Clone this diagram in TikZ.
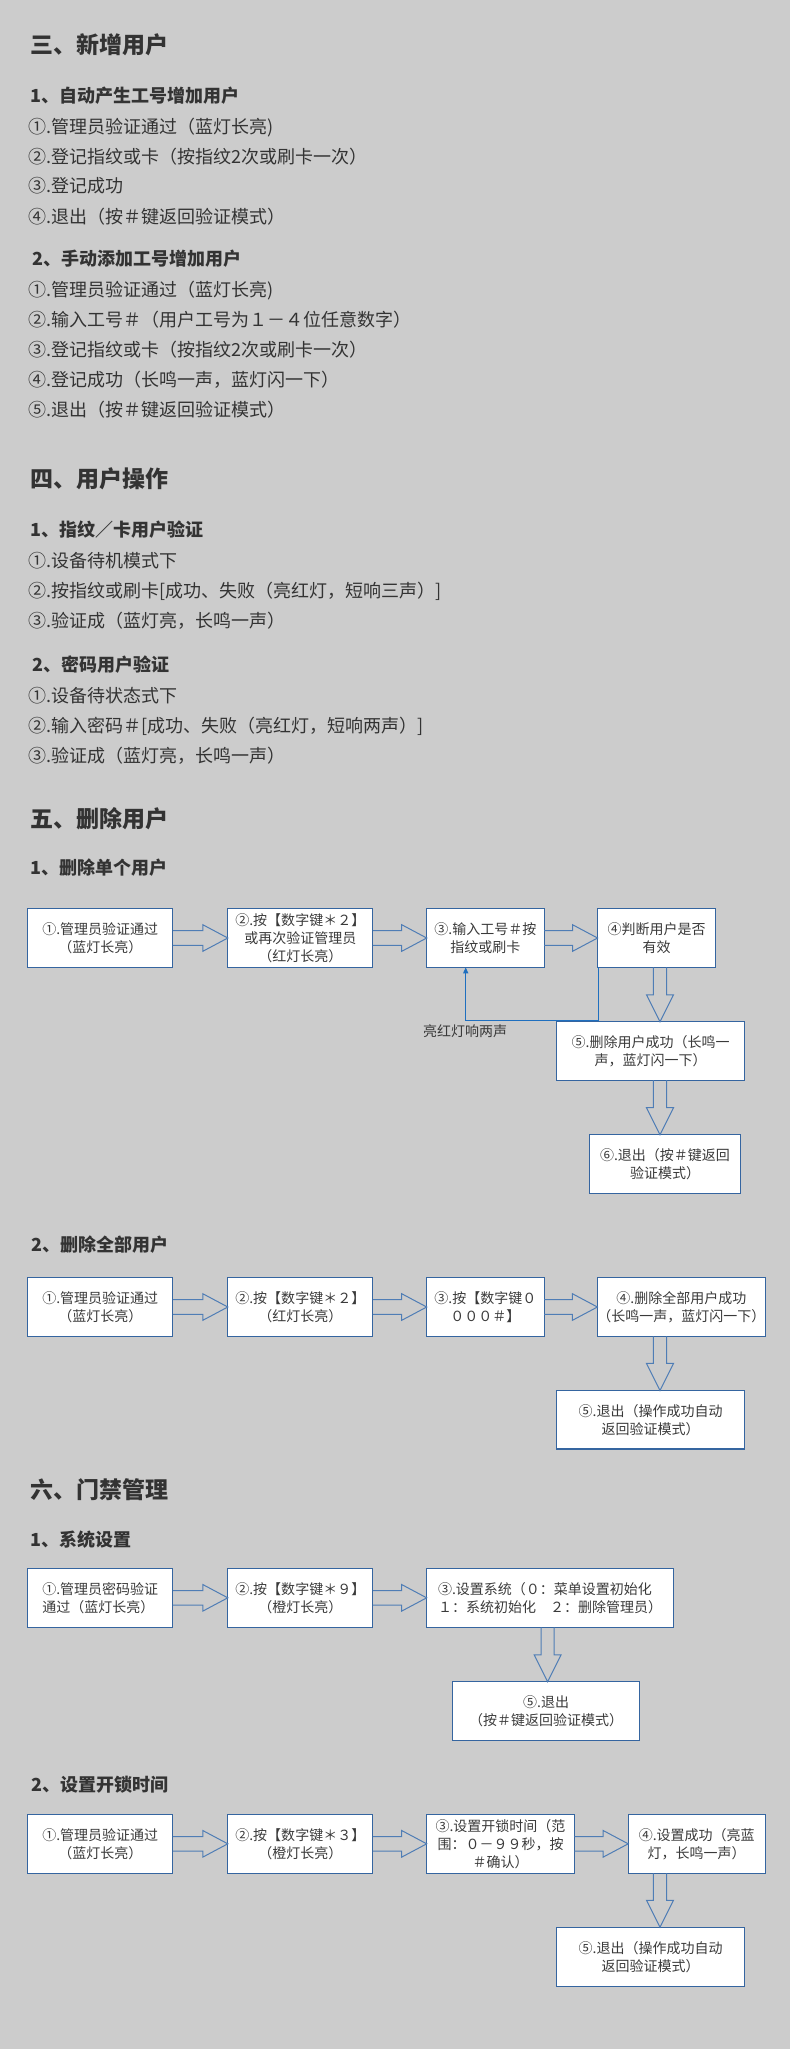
\documentclass[tikz,border=0pt]{standalone}
\usepackage{fontspec}
\setmainfont{Noto Sans CJK SC}
\usetikzlibrary{calc,arrows.meta}
\definecolor{bg}{HTML}{CCCCCC}
\definecolor{txt}{HTML}{333333}
\definecolor{boxtxt}{HTML}{3A3A3A}
\definecolor{boxc}{HTML}{3565A0}
\definecolor{arrc}{HTML}{4F7DB5}
\definecolor{fbc}{HTML}{1F6FBF}
\tikzset{
  hone/.style={anchor=west, inner sep=0pt, text=txt, font=\fontsize{23}{23}\selectfont\bfseries, text height=20.2pt, text depth=2.8pt},
  htwo/.style={anchor=west, inner sep=0pt, text=txt, font=\fontsize{18}{18}\selectfont\bfseries, text height=15.8pt, text depth=2.2pt},
  bodyline/.style={anchor=west, inner sep=0pt, text=txt, font=\fontsize{18}{18}\selectfont, text height=15.8pt, text depth=2.2pt},
  flowbox/.style={draw=boxc, line width=1.1pt, fill=white, align=center, inner sep=0pt, outer sep=0pt, text=boxtxt, font=\fontsize{14}{18}\selectfont},
  blockarrow/.style={draw=arrc, line width=1pt, line join=miter},
  fbline/.style={draw=fbc, line width=1.2pt, -{Triangle[length=6pt,width=5pt]}},
  fblabel/.style={inner sep=0pt, text=boxtxt, font=\fontsize{14}{14}\selectfont}
}
\newcommand\flowbx[7][center]{\node[flowbox, align=#1, minimum width=#5pt, minimum height=#6pt] (#2) at (#3,#4) {#7};}
\newcommand\harr[2]{%
  \draw[blockarrow] ($(#1.east)+(0,-7.3)$) -- ($(#2.west)+(-25,-7.3)$) -- ($(#2.west)+(-25,-13.3)$) -- (#2.west) -- ($(#2.west)+(-25,13.3)$) -- ($(#2.west)+(-25,7.3)$) -- ($(#1.east)+(0,7.3)$);}
\newcommand\varr[3]{%
  \coordinate (vs) at (#1.south -| #3);
  \coordinate (vt) at (#2.north -| #3);
  \draw[blockarrow] ($(vs)+(-6.6,0)$) -- ($(vt)+(-6.6,-27)$) -- ($(vt)+(-13.5,-27)$) -- (vt) -- ($(vt)+(13.5,-27)$) -- ($(vt)+(6.6,-27)$) -- ($(vs)+(6.6,0)$);}
\begin{document}
\begin{tikzpicture}[x=1pt,y=-1pt]
\fill[bg] (0,0) rectangle (790,2049);
\useasboundingbox (0,0) rectangle (790,2049);

% ---------- 三 ----------
\node[hone] (t3) at (30,45) {三、新增用户};
\node[htwo] (t31) at (30,96) {1、自动产生工号增加用户};
\node[bodyline] (l311) at (28.7,126.7) {①.管理员验证通过（蓝灯长亮)};
\node[bodyline] (l312) at (28.7,156.7) {②.登记指纹或卡（按指纹2次或刷卡一次）};
\node[bodyline] (l313) at (28.7,186) {③.登记成功};
\node[bodyline] (l314) at (28.7,216.7) {④.退出（按＃键返回验证模式）};
\node[htwo] (t32) at (32.5,258.3) {2、手动添加工号增加用户};
\node[bodyline] (l321) at (28.7,289.3) {①.管理员验证通过（蓝灯长亮)};
\node[bodyline] (l322) at (28.7,319.3) {②.输入工号＃（用户工号为１－４位任意数字）};
\node[bodyline] (l323) at (28.7,349.3) {③.登记指纹或卡（按指纹2次或刷卡一次）};
\node[bodyline] (l324) at (28.7,379.3) {④.登记成功（长鸣一声，蓝灯闪一下）};
\node[bodyline] (l325) at (28.7,409.3) {⑤.退出（按＃键返回验证模式）};

% ---------- 四 ----------
\node[hone] (t4) at (30,478.3) {四、用户操作};
\node[htwo] (t41) at (30,529.3) {1、指纹／卡用户验证};
\node[bodyline] (l411) at (28.7,560.7) {①.设备待机模式下};
\node[bodyline] (l412) at (28.7,590.7) {②.按指纹或刷卡[成功、失败（亮红灯，短响三声）]};
\node[bodyline] (l413) at (28.7,621) {③.验证成（蓝灯亮，长鸣一声）};
\node[htwo] (t42) at (32.5,664.3) {2、密码用户验证};
\node[bodyline] (l421) at (28.7,696) {①.设备待状态式下};
\node[bodyline] (l422) at (28.7,725.7) {②.输入密码＃[成功、失败（亮红灯，短响两声）]};
\node[bodyline] (l423) at (28.7,755.7) {③.验证成（蓝灯亮，长鸣一声）};

% ---------- 五 ----------
\node[hone] (t5) at (30,818.3) {五、删除用户};
\node[htwo] (t51) at (30,868) {1、删除单个用户};
\flowbx{d1}{100.3}{938}{145}{58.6}{①.管理员验证通过\\（蓝灯长亮）}
\flowbx{d2}{300.3}{938}{145}{58.6}{②.按【数字键＊２】\\或再次验证管理员\\（红灯长亮）}
\flowbx{d3}{485.4}{938}{117.4}{58.6}{③.输入工号＃按\\指纹或刷卡}
\flowbx{d4}{656.5}{938}{117.9}{58.6}{④判断用户是否\\有效}
\flowbx{d5}{650.6}{1050.9}{187.9}{58.3}{⑤.删除用户成功（长鸣一\\声，蓝灯闪一下）}
\flowbx{d6}{665}{1164}{151.2}{58.6}{⑥.退出（按＃键返回\\验证模式）}
\harr{d1}{d2}
\harr{d2}{d3}
\harr{d3}{d4}
\coordinate (vxa) at (660,0);
\varr{d4}{d5}{vxa}
\varr{d5}{d6}{vxa}
\coordinate (fbk) at (465.7,1020.7);
\draw[fbline] ($(d4.south west)+(0.8,0)$) |- (fbk) -- (fbk |- d3.south);
\node[fblabel] (fbt) at (465,1031) {亮红灯响两声};

\node[htwo] (t52) at (31,1245) {2、删除全部用户};
\flowbx{e1}{100.3}{1307}{145}{58.6}{①.管理员验证通过\\（蓝灯长亮）}
\flowbx{e2}{300.3}{1307}{145}{58.6}{②.按【数字键＊２】\\（红灯长亮）}
\flowbx{e3}{485.4}{1307}{117.4}{58.6}{③.按【数字键０\\０００＃】}
\flowbx{e4}{681.4}{1307}{167.7}{58.6}{④.删除全部用户成功\\（长鸣一声，蓝灯闪一下）}
\flowbx{e5}{650.6}{1419.7}{187.9}{58.6}{⑤.退出（操作成功自动\\返回验证模式）}
\harr{e1}{e2}
\harr{e2}{e3}
\harr{e3}{e4}
\varr{e4}{e5}{vxa}

% ---------- 六 ----------
\node[hone] (t6) at (30,1489.3) {六、门禁管理};
\node[htwo] (t61) at (30,1540) {1、系统设置};
\flowbx[left]{f1}{100.3}{1597.8}{145}{59}{①.管理员密码验证\\通过（蓝灯长亮）}
\flowbx{f2}{300.3}{1597.8}{145}{59}{②.按【数字键＊９】\\（橙灯长亮）}
\flowbx[left]{f3}{550.1}{1597.8}{246.9}{59}{③.设置系统（０：菜单设置初始化\\１：系统初始化　２：删除管理员）}
\flowbx{f5}{546.1}{1710.9}{187.4}{58.3}{⑤.退出\\（按＃键返回验证模式）}
\harr{f1}{f2}
\harr{f2}{f3}
\coordinate (vxb) at (547.6,0);
\varr{f3}{f5}{vxb}

\node[htwo] (t62) at (31,1785) {2、设置开锁时间};
\flowbx{g1}{100.3}{1843.8}{145}{59}{①.管理员验证通过\\（蓝灯长亮）}
\flowbx{g2}{300.3}{1843.8}{145}{59}{②.按【数字键＊３】\\（橙灯长亮）}
\flowbx{g3}{500.5}{1843.8}{147.6}{59}{③.设置开锁时间（范\\围：０－９９秒，按\\＃确认）}
\flowbx{g4}{696.7}{1843.8}{137}{59}{④.设置成功（亮蓝\\灯，长鸣一声）}
\flowbx{g5}{650.6}{1957}{187.9}{59.4}{⑤.退出（操作成功自动\\返回验证模式）}
\harr{g1}{g2}
\harr{g2}{g3}
\harr{g3}{g4}
\varr{g4}{g5}{vxa}
\end{tikzpicture}
\end{document}
